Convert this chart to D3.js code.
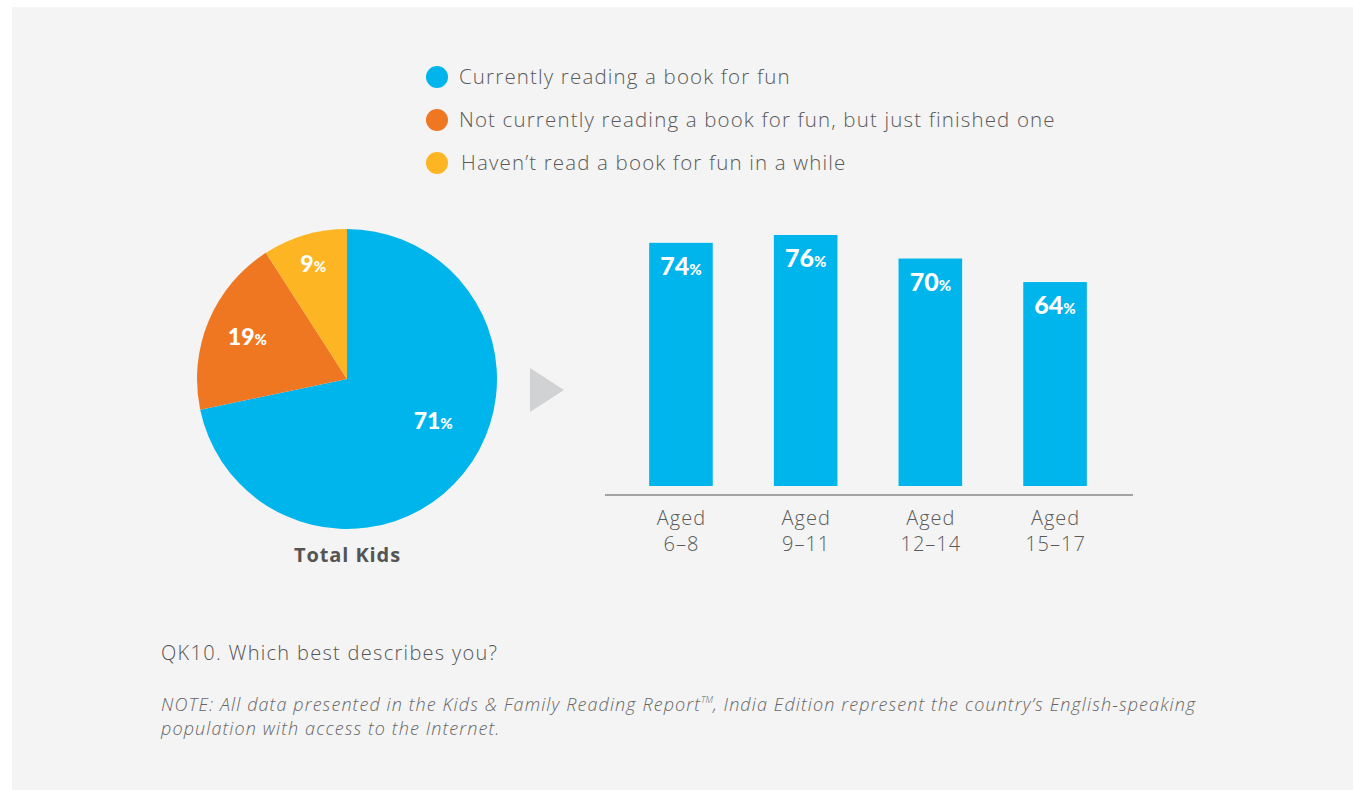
<!DOCTYPE html>
<html><head><meta charset="utf-8">
<script src="https://cdn.jsdelivr.net/npm/d3@7"></script>
<style>
html,body{margin:0;padding:0;background:#fff;}
svg{display:block;font-family:Lato,"Open Sans",sans-serif;}
.os{font-family:"Open Sans",sans-serif;}
</style></head>
<body>
<svg id="chart" width="1353" height="790"></svg>
<script>
// ---- data ----
const legendLabels = ["Currently reading a book for fun","Not currently reading a book for fun, but just finished one","Haven\u2019t read a book for fun in a while"];
const pieValues = [71, 19, 9];
const pieTitle = "Total Kids";
const ageGroups = ["6\u20138","9\u201311","12\u201314","15\u201317"];
const ageValues = [74, 76, 70, 64];
const questionText = "QK10. Which best describes you?";
const noteLines = ["NOTE: All data presented in the Kids & Family Reading Report", ", India Edition represent the country\u2019s English-speaking", "population with access to the Internet."];

// ---- styles ----
const colors = ["#00b5ec","#f07722","#fdb524"];
const svg = d3.select("#chart");

svg.append("rect").attr("x",12).attr("y",7).attr("width",1341).attr("height",783).attr("fill","#f4f4f4");

// legend
const leg = svg.append("g");
legendLabels.forEach((t,i)=>{
  const y = 77 + i*43;
  leg.append("circle").attr("cx",437).attr("cy",y).attr("r",11).attr("fill",colors[i]);
  leg.append("text").attr("class","os").attr("x", i===2?461:459).attr("y",y+7).attr("font-size",20.5)
    .attr("letter-spacing",1.15).attr("fill","#5a5a5a").attr("font-weight",300).text(t);
});

// pie
const cx = 347, cy = 379, R = 150;
const pie = d3.pie().sort(null).value(d=>d);
const arcs = pie(pieValues);
const arc = d3.arc().innerRadius(0).outerRadius(R);
const pg = svg.append("g").attr("transform",`translate(${cx},${cy})`);
pg.selectAll("path").data(arcs).join("path").attr("d",arc).attr("fill",(d,i)=>colors[i]);
const labelR = [96,108,120];
const labelShift = [-13,0,0]; // degrees
arcs.forEach((d,i)=>{
  const a = (d.startAngle+d.endAngle)/2 + labelShift[i]*Math.PI/180;
  const x = Math.sin(a)*labelR[i], y = -Math.cos(a)*labelR[i];
  const t = pg.append("text").attr("x",x).attr("y",y+8).attr("text-anchor","middle")
    .attr("fill","#fff").attr("font-weight",900).attr("font-size",23);
  t.append("tspan").text(pieValues[i]);
  t.append("tspan").attr("font-size",15).text("%");
});
svg.append("text").attr("class","os").attr("x",cx+0.5).attr("y",562).attr("text-anchor","middle").attr("font-size",20)
  .attr("letter-spacing",0.9).attr("font-weight",700).attr("fill","#555").text(pieTitle);

// arrow
svg.append("path").attr("d","M530,368L564,390L530,412Z").attr("fill","#d1d2d4");

// bars
const x = d3.scaleBand().domain(ageGroups).range([618,1118]).paddingInner(0.49).paddingOuter(0.25);
const y = d3.scaleLinear().domain([12,76]).range([486,235]);
const bg = svg.append("g");
bg.selectAll("rect").data(ageValues).join("rect")
  .attr("x",(d,i)=>x(ageGroups[i])).attr("width",x.bandwidth())
  .attr("y",d=>y(d)).attr("height",d=>486-y(d)).attr("fill",colors[0]);
ageValues.forEach((v,i)=>{
  const t = bg.append("text").attr("x",x(ageGroups[i])+x.bandwidth()/2).attr("y",y(v)+32)
    .attr("text-anchor","middle").attr("fill","#fff").attr("font-weight",900).attr("font-size",25);
  t.append("tspan").text(v);
  t.append("tspan").attr("font-size",15).text("%");
});
// axis
const axis = d3.axisBottom(x).tickSize(0).tickFormat("");
const ag = svg.append("g").attr("transform","translate(0,495)").call(axis);
ag.select(".domain").attr("d","M605,0H1133").attr("stroke","#888").attr("stroke-width",1.5);
ageGroups.forEach((g,i)=>{
  const xc = x(g)+x.bandwidth()/2 + 0.5;
  svg.append("text").attr("class","os").attr("x",xc).attr("y",525).attr("text-anchor","middle").attr("font-size",20).attr("letter-spacing",1).attr("font-weight",300).attr("fill","#5a5a5a").text("Aged");
  svg.append("text").attr("class","os").attr("x",xc).attr("y",551).attr("text-anchor","middle").attr("font-size",20).attr("letter-spacing",1).attr("font-weight",300).attr("fill","#5a5a5a").text(g);
});

// footer
svg.append("text").attr("class","os").attr("x",161).attr("y",660).attr("font-size",20).attr("letter-spacing",1.3).attr("font-weight",300).attr("fill","#555").text(questionText);
const n1 = svg.append("text").attr("class","os").attr("x",161).attr("y",711).attr("font-size",18).attr("letter-spacing",1.1).attr("font-style","italic").attr("font-weight",300).attr("fill","#666");
n1.append("tspan").text(noteLines[0]);
n1.append("tspan").attr("font-size",9).attr("letter-spacing",0).attr("dy",-8).text("TM");
n1.append("tspan").attr("dy",8).text(noteLines[1]);
svg.append("text").attr("class","os").attr("x",161).attr("y",735).attr("font-size",18).attr("letter-spacing",1.1).attr("font-style","italic").attr("font-weight",300).attr("fill","#666").text(noteLines[2]);
</script>
</body></html>
